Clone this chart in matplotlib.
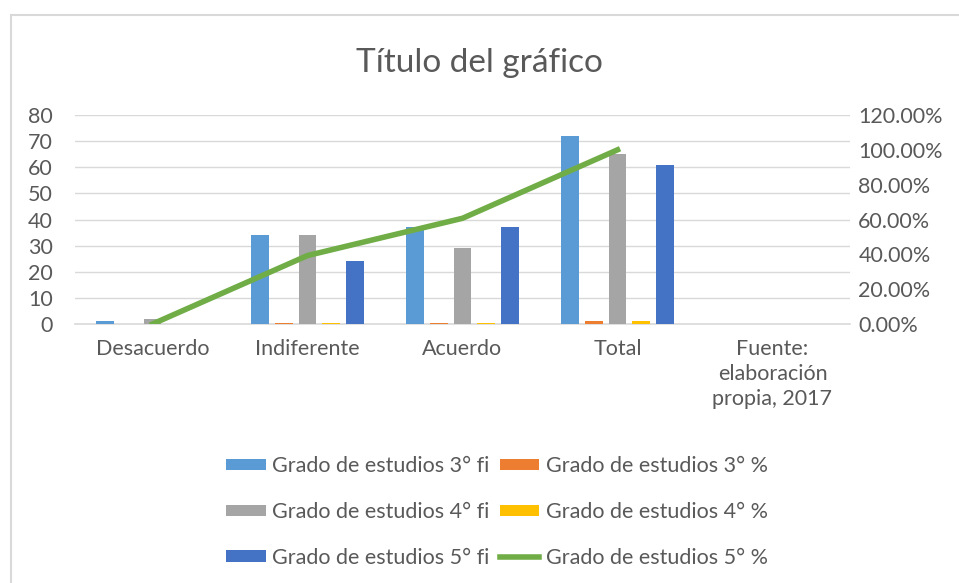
import numpy as np
import matplotlib
matplotlib.use("Agg")
import matplotlib.pyplot as plt
from matplotlib.patches import Rectangle
from matplotlib.ticker import FuncFormatter

plt.rcParams['font.family'] = ['Lato', 'DejaVu Sans']

categories = ["Desacuerdo", "Indiferente", "Acuerdo", "Total", "Fuente:\nelaboración\npropia, 2017"]
g3_fi = [1, 34, 37, 72, np.nan]
g3_pct = [0.014, 0.472, 0.514, 1.0, np.nan]
g4_fi = [2, 34, 29, 65, np.nan]
g4_pct = [0.031, 0.523, 0.446, 1.0, np.nan]
g5_fi = [0, 24, 37, 61, np.nan]
g5_pct = [0.0, 0.393, 0.607, 1.0, np.nan]

txt = "#595959"
grid = "#d9d9d9"

fig = plt.figure(figsize=(9.59, 5.83), dpi=100)
fig.patches.append(Rectangle((11 / 959, -0.1), 1.2, 1 - 15 / 583 + 0.1, transform=fig.transFigure,
                             fill=False, edgecolor=grid, linewidth=1.5))

ax = fig.add_axes([75 / 959, 1 - 324 / 583, 775 / 959, 209 / 583])
x = np.arange(len(categories))
step, w = 0.152, 0.116
bars = [
    (g3_fi, "#5B9BD5", "Grado de estudios 3° fi"),
    (g3_pct, "#ED7D31", "Grado de estudios 3° %"),
    (g4_fi, "#A5A5A5", "Grado de estudios 4° fi"),
    (g4_pct, "#FFC000", "Grado de estudios 4° %"),
    (g5_fi, "#4472C4", "Grado de estudios 5° fi"),
]
handles = []
for i, (vals, col, lab) in enumerate(bars):
    h = ax.bar(x + (i - 2) * step, vals, w, color=col, label=lab, zorder=3)
    handles.append(h)

ax.set_xlim(-0.5, len(categories) - 0.5)
ax.set_ylim(0, 80)
ax.set_yticks(range(0, 81, 10))
ax.grid(axis='y', color=grid, linewidth=1, zorder=0)
for s in ["top", "right", "left"]:
    ax.spines[s].set_visible(False)
ax.spines["bottom"].set_color(grid)
ax.spines["bottom"].set_linewidth(1.2)
ax.set_xticks(x)
ax.set_xticklabels(categories, fontsize=15.5, color=txt, linespacing=1.3, va='top')
ax.tick_params(axis='x', length=0, pad=11)
ax.tick_params(axis='y', length=0, labelsize=15.5, labelcolor=txt, pad=16)

ax2 = ax.twinx()
line, = ax2.plot(x, g5_pct, color="#70AD47", linewidth=4, label="Grado de estudios 5° %", zorder=4)
ax2.set_ylim(0, 1.2)
ax2.set_yticks(np.arange(0, 1.21, 0.2))
ax2.yaxis.set_major_formatter(FuncFormatter(lambda v, p: f"{v * 100:.2f}%"))
ax2.tick_params(axis='y', length=0, labelsize=15.5, labelcolor=txt, pad=6)
for s in ax2.spines.values():
    s.set_visible(False)

fig.text(0.5, 1 - 63 / 583, "Título del gráfico", ha='center', va='center', fontsize=24, color=txt)

order = [handles[0], handles[2], handles[4], handles[1], handles[3], line]
leg = fig.legend(order, [h.get_label() for h in order], ncol=2, loc='center',
                 bbox_to_anchor=(497 / 959, 1 - 512 / 583), frameon=False, fontsize=15.5,
                 labelcolor=txt, handlelength=1.85, handleheight=0.45, handletextpad=0.3,
                 columnspacing=0.45, labelspacing=1.2)

fig.savefig("out.png", dpi=100)
